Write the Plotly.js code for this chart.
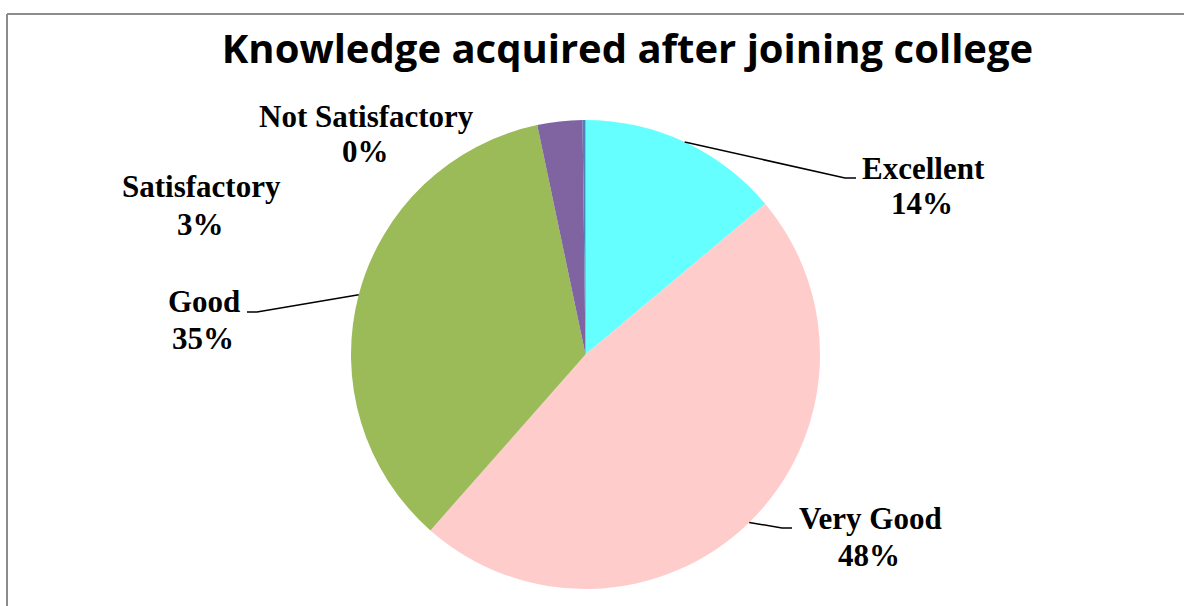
<!DOCTYPE html>
<html>
<head>
<meta charset="utf-8">
<script src="https://cdn.plot.ly/plotly-3.0.1.min.js"></script>
<style>
  html, body { margin: 0; padding: 0; background: #ffffff; }
  #chart { width: 1184px; height: 606px; }
</style>
</head>
<body>
<div id="chart"></div>
<script>
// ---- data ----
const categories = ["Excellent", "Very Good", "Good", "Satisfactory", "Not Satisfactory"];
const values = [13.9, 47.6, 35.2, 3.1, 0.2];
const colors = ["#66FFFF", "#FFCCCC", "#9BBB59", "#8064A2", "#4F81BD"];
const chartTitle = "Knowledge acquired after joining college";

// ---- layout geometry (pixels) ----
const W = 1184, H = 606;
const M = { l: 0, r: 13, t: 120, b: 17 };
const plotW = W - M.l - M.r, plotH = H - M.t - M.b;
const cx = M.l + plotW / 2, cy = M.t + plotH / 2;
const R = Math.min(plotW, plotH) / 2;

// label placement: [nameCenterX, nameCenterY, pctCenterX, pctCenterY]
const labelPos = [
  [923, 168, 922, 203],
  [870, 518, 869, 555],
  [204, 301, 203, 338],
  [201, 187, 200, 224],
  [366, 116, 365, 152]
];
// leader lines: [elbowX, elbowY, endX, endY] or null
const leaderPos = [
  [845, 178, 856, 178],
  [782, 528, 792, 528],
  [257, 312, 247, 312],
  null,
  null
];

const px2x = p => (p - M.l) / plotW;
const py2y = p => 1 - (p - M.t) / plotH;

const total = values.reduce((a, b) => a + b, 0);
const labelFont = { family: "Liberation Serif, 'Times New Roman', serif", size: 31, color: "#000000", weight: "bold" };

const annotations = [];
const shapes = [];
let cum = 0;
categories.forEach((c, i) => {
  const frac = values[i] / total;
  const midAng = (cum + frac / 2) * 2 * Math.PI;
  cum += frac;
  const pct = Math.round(frac * 100) + "%";
  const lp = labelPos[i];
  annotations.push({ text: c, x: px2x(lp[0]), y: py2y(lp[1]), xref: "paper", yref: "paper",
    xanchor: "center", yanchor: "middle", showarrow: false, font: labelFont });
  annotations.push({ text: pct, x: px2x(lp[2]), y: py2y(lp[3]), xref: "paper", yref: "paper",
    xanchor: "center", yanchor: "middle", showarrow: false, font: labelFont });
  const ld = leaderPos[i];
  if (ld) {
    const sx = cx + R * Math.sin(midAng);
    const sy = cy - R * Math.cos(midAng);
    shapes.push({ type: "path", xref: "paper", yref: "paper",
      path: `M ${px2x(sx)} ${py2y(sy)} L ${px2x(ld[0])} ${py2y(ld[1])} L ${px2x(ld[2])} ${py2y(ld[3])}`,
      line: { color: "#000000", width: 1.5 } });
  }
});

// chart frame (top and left edges visible)
shapes.push({ type: "line", xref: "paper", yref: "paper", x0: px2x(7), y0: py2y(14), x1: px2x(1200), y1: py2y(14), line: { color: "#8C8C8C", width: 2 } });
shapes.push({ type: "line", xref: "paper", yref: "paper", x0: px2x(7), y0: py2y(14), x1: px2x(7), y1: py2y(620), line: { color: "#8C8C8C", width: 2 } });

const trace = {
  type: "pie",
  labels: categories,
  values: values,
  sort: false,
  direction: "clockwise",
  rotation: 0,
  marker: { colors: colors, line: { width: 0 } },
  textinfo: "none",
  hoverinfo: "label+percent",
  showlegend: false
};

const layout = {
  width: W, height: H,
  margin: M,
  paper_bgcolor: "#ffffff",
  plot_bgcolor: "#ffffff",
  showlegend: false,
  title: {
    text: chartTitle,
    x: 627.5 / W, xref: "container", xanchor: "center",
    y: 1 - 49 / H, yref: "container", yanchor: "middle",
    font: { family: "'Open Sans', Lato, sans-serif", size: 40, color: "#000000", weight: "bold" }
  },
  annotations: annotations,
  shapes: shapes
};

Plotly.newPlot("chart", [trace], layout, { displayModeBar: false, staticPlot: true });
</script>
</body>
</html>
